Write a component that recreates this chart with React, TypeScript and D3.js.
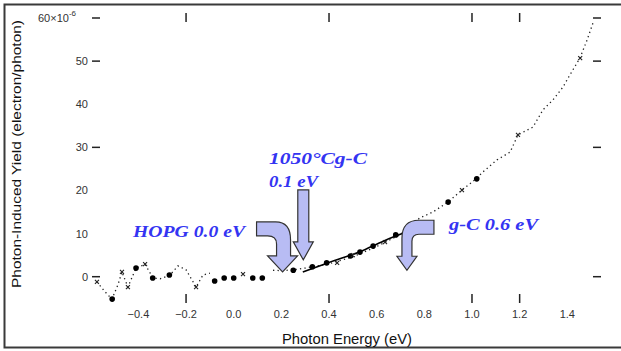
import React, { useRef, useEffect } from "react";
import * as d3 from "d3";

// axis tick values
const xTickLabels = [-0.4, -0.2, 0.0, 0.2, 0.4, 0.6, 0.8, 1.0, 1.2, 1.4];
const yTickLabels = [0, 10, 20, 30, 40, 50];
const yTopLabel = 60;
const sideTicksY = [0, 30, 50, 60];
const sideTicksX = [-0.2, 0.4, 1.0, 1.2];

// HOPG (filled circles)
const hopgE = [-0.51, -0.41, -0.34, -0.27, -0.08, -0.04, 0.0, 0.08, 0.12, 0.25, 0.33, 0.39, 0.49, 0.53, 0.585, 0.68, 0.9, 1.02];
const hopgY = [-5.2, 2.0, -0.3, 0.4, -1.0, -0.3, -0.3, -0.3, -0.3, 1.5, 2.3, 3.2, 4.8, 5.7, 7.1, 9.7, 17.3, 22.7];

// 1050 C g-C (x markers)
const gc1050E = [-0.574, -0.469, -0.444, -0.372, -0.158, 0.039, 0.434, 0.5, 0.635, 0.958, 1.193, 1.454];
const gc1050Y = [-1.2, 1.1, -2.4, 2.9, -2.4, 0.6, 3.2, 5.0, 8.0, 20.1, 32.9, 50.7];

// g-C (dotted trace), two stretches
const gcLeftE = [-0.574, -0.54, -0.511, -0.486, -0.469, -0.444, -0.41, -0.372, -0.339, -0.309, -0.267, -0.234, -0.2, -0.158, -0.129, -0.1];
const gcLeftY = [-1.2, -3.5, -5.2, -1.9, 1.1, -2.4, 2.0, 2.9, -0.3, -0.5, 0.4, 2.5, 1.6, -2.4, 0.4, 0.8];
const gcRightE = [0.165, 0.2, 0.25, 0.3, 0.4, 0.5, 0.6, 0.7, 0.78, 0.836, 0.899, 0.958, 1.017, 1.046, 1.105, 1.16, 1.193, 1.256, 1.298, 1.34, 1.382, 1.411, 1.453, 1.483, 1.508];
const gcRightY = [1.5, 1.4, 1.6, 2.0, 3.0, 4.6, 7.0, 9.8, 13.6, 15.0, 17.3, 20.1, 22.7, 24.3, 27.1, 28.9, 32.9, 34.7, 38.7, 41.0, 44.0, 46.8, 50.7, 54.9, 58.9];

// linear fit near threshold
const fitE = [0.29, 0.4, 0.53, 0.63, 0.727];
const fitY = [1.1, 3.3, 5.8, 8.3, 10.4];

// annotation arrow tips (eV, yield)
const hopgTip = [0.205, 1.1];
const gc1050Tip = [0.292, 3.9];
const gcTip = [0.727, 1.5];

const zip = (a, b) => a.map((v, i) => [v, b[i]]);

function Chart() {
  const svgRef = useRef(null);

  useEffect(() => {
    const svg = d3.select(svgRef.current);
    svg.selectAll("*").remove();

    const x = d3.scaleLinear().domain([-0.4, 1.4]).range([138.4, 567.3]);
    const y = d3.scaleLinear().domain([0, 60]).range([276.7, 18]);
    const fmt = d3.format(".1f");
    const sans = "'Liberation Sans', Arial, sans-serif";
    const serif = "'Liberation Serif', 'Times New Roman', serif";

    // outer frame (right side falls off the picture)
    svg.append("rect")
      .attr("x", 4.5).attr("y", 4.5).attr("width", 700).attr("height", 343)
      .attr("fill", "none").attr("stroke", "#3a3a3a").attr("stroke-width", 2);

    // side ticks
    const tg = svg.append("g").attr("stroke", "#222").attr("stroke-width", 1.5);
    sideTicksY.forEach((v) => {
      tg.append("line").attr("x1", 92).attr("x2", 100).attr("y1", y(v)).attr("y2", y(v));
      tg.append("line").attr("x1", 593).attr("x2", 601).attr("y1", y(v)).attr("y2", y(v));
    });
    sideTicksX.forEach((v) => {
      tg.append("line").attr("x1", x(v)).attr("x2", x(v)).attr("y1", 13).attr("y2", 22);
      tg.append("line").attr("x1", x(v)).attr("x2", x(v)).attr("y1", 294).attr("y2", 303);
    });

    // tick labels
    svg.append("g").selectAll("text").data(xTickLabels).enter().append("text")
      .attr("x", (d) => x(d)).attr("y", 318)
      .attr("text-anchor", "middle")
      .style("font-family", sans).style("font-size", "11px").style("fill", "#333")
      .text((d) => fmt(d));

    svg.append("g").selectAll("text").data(yTickLabels).enter().append("text")
      .attr("x", 88).attr("y", (d) => y(d) + 4)
      .attr("text-anchor", "end")
      .style("font-family", sans).style("font-size", "11px").style("fill", "#333")
      .text((d) => d);

    const top = svg.append("text")
      .attr("x", 76).attr("y", y(yTopLabel) + 4)
      .attr("text-anchor", "end")
      .style("font-family", sans).style("font-size", "11px").style("fill", "#333");
    top.append("tspan").text(`${yTopLabel}×10`);
    top.append("tspan").attr("dy", -6).style("font-size", "8px").text("-6");

    // axis titles
    svg.append("text")
      .attr("transform", "translate(21,154) rotate(-90)")
      .attr("text-anchor", "middle")
      .attr("textLength", 268).attr("lengthAdjust", "spacingAndGlyphs")
      .style("font-family", sans).style("font-size", "13.5px").style("fill", "#111")
      .text("Photon-Induced Yield (electron/photon)");

    svg.append("text")
      .attr("x", 282).attr("y", 344)
      .attr("textLength", 130).attr("lengthAdjust", "spacingAndGlyphs")
      .style("font-family", sans).style("font-size", "14px").style("fill", "#111")
      .text("Photon Energy (eV)");

    const line = d3.line().x((d) => x(d[0])).y((d) => y(d[1]));

    // g-C dotted trace
    [zip(gcLeftE, gcLeftY), zip(gcRightE, gcRightY)].forEach((pts) => {
      svg.append("path").attr("d", line(pts))
        .attr("fill", "none").attr("stroke", "#222")
        .attr("stroke-width", 1.3).attr("stroke-dasharray", "1.3 3.2");
    });

    // fit line
    svg.append("path").attr("d", line.curve(d3.curveMonotoneX)(zip(fitE, fitY)))
      .attr("fill", "none").attr("stroke", "#000").attr("stroke-width", 1.6);

    // HOPG dots
    svg.append("g").selectAll("circle").data(zip(hopgE, hopgY)).enter().append("circle")
      .attr("cx", (d) => x(d[0])).attr("cy", (d) => y(d[1])).attr("r", 2.8)
      .attr("fill", "#000");

    // 1050 C g-C x markers
    svg.append("g").selectAll("path").data(zip(gc1050E, gc1050Y)).enter().append("path")
      .attr("d", (d) => {
        const cx = x(d[0]), cy = y(d[1]);
        return `M${cx - 2},${cy - 2}L${cx + 2},${cy + 2}M${cx + 2},${cy - 2}L${cx - 2},${cy + 2}`;
      })
      .attr("stroke", "#222").attr("stroke-width", 1.1).attr("fill", "none");

    // arrows
    const arrowFill = "#b8bcf4";
    const arrow = (tip, d) => {
      svg.append("path")
        .attr("transform", `translate(${x(tip[0])},${y(tip[1])})`)
        .attr("d", d)
        .attr("fill", arrowFill).attr("stroke", "#333").attr("stroke-width", 1.2);
    };
    arrow(hopgTip, "M-26,-50L-7,-50Q8,-50 8,-32L8,-16L15,-16L0,0L-15,-16L-6,-16L-6,-28Q-6,-36 -15,-36L-26,-36Z");
    arrow(gc1050Tip, "M-5.5,-70L5.5,-70L5.5,-18L10,-18L0,0L-10,-18L-5.5,-18Z");
    arrow(gcTip, "M-5,-14L-5,-32Q-5,-50 12,-50L27,-50L27,-36L12,-36Q5,-36 5,-29L5,-14L10,-14L0,0L-10,-14Z");

    // labels
    const label = (tx, ty, txt, w) => {
      svg.append("text")
        .attr("x", tx).attr("y", ty)
        .attr("textLength", w).attr("lengthAdjust", "spacingAndGlyphs")
        .style("font-family", serif).style("font-size", "17px")
        .style("font-weight", "bold").style("font-style", "italic")
        .style("fill", "#3434f2")
        .text(txt);
    };
    label(133, 237, "HOPG 0.0 eV", 112);
    label(269, 164, "1050°Cg-C", 98);
    label(269, 187, "0.1 eV", 49);
    label(449, 230, "g-C 0.6 eV", 89);
  }, []);

  return (
    <svg ref={svgRef} width={621} height={351}
      style={{ position: "absolute", left: 0, top: 0, background: "#fff" }} />
  );
}

export default function App() {
  return <Chart />;
}
